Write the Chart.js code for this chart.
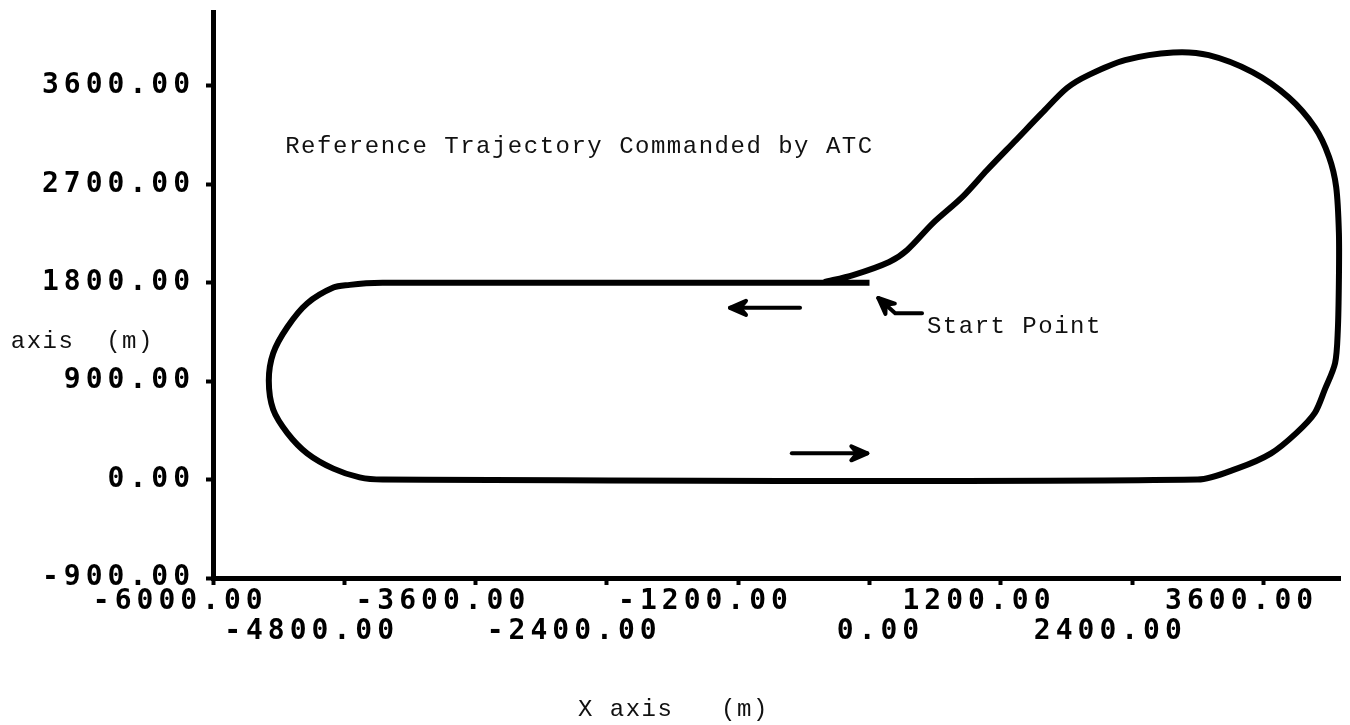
<!DOCTYPE html>
<html>
<head>
    <title>Reference Trajectory Commanded by ATC</title>
    <meta name="viewport" content="width=device-width, initial-scale=1.0">
    <script src="https://cdn.jsdelivr.net/npm/chart.js@4.4.1/dist/chart.umd.min.js"></script>
    <style>
        body { margin: 0; background: #fff; }
        #wrap { width: 1350px; height: 725px; position: relative; }
    </style>
</head>
<body>

<div id="wrap"><canvas id="myChart"></canvas></div>

<script>
// trajectory, metres (start point first)
const trackX = [0, -4450, -4600, -4750, -4900, -5140, -5320, -5450, -5490, -5450,
    -5320, -5140, -4900, -4660, -4450, 3000, 3370, 3670, 3900, 4070,
    4160, 4255, 4280, 4290, 4290, 4265, 4200, 4070, 3830, 3500,
    3100, 2775, 2335, 2005, 1805, 1575, 1340, 1075, 845, 580,
    345, 180, -150, -415];
const trackY = [1800, 1800, 1795, 1780, 1755, 1610, 1395, 1155, 905, 640,
    425, 240, 100, 20, 0, 0, 105, 240, 425, 610,
    820, 1065, 1365, 1825, 2255, 2675, 2950, 3220, 3495, 3725,
    3880, 3905, 3835, 3700, 3580, 3350, 3105, 2830, 2580, 2345,
    2100, 1990, 1870, 1805];

const xTicks = [-6000, -4800, -3600, -2400, -1200, 0, 1200, 2400, 3600];
const xTickLabels = ['-6000.00', '-4800.00', '-3600.00', '-2400.00', '-1200.00', '0.00', '1200.00', '2400.00', '3600.00'];
const yTicks = [-900, 0, 900, 1800, 2700, 3600];
const yTickLabels = ['-900.00', '0.00', '900.00', '1800.00', '2700.00', '3600.00'];

const LABEL_SHIFT = 500; // plotter printed x labels a bit right of the tick

const tickFont = { family: 'DejaVu Sans Mono', size: 28, weight: 'bold', lineHeight: 1.1 };
const axisGrid = { drawOnChartArea: false, drawTicks: true, tickLength: 7, tickWidth: 4, tickColor: '#000' };
const axisBorder = { display: true, width: 5, color: '#000' };

// no extra room for half labels at the ends, the plot fills the page
function noPad(axis) {
    axis.paddingTop = 0;
    axis.paddingBottom = 0;
    axis.paddingLeft = 0;
    axis.paddingRight = 0;
}

// wide dot-matrix look for the tick numbers
const spacing = {
    id: 'spacing',
    beforeDraw(chart) { chart.ctx.letterSpacing = '5px'; },
    beforeDatasetsDraw(chart) { chart.ctx.letterSpacing = '0px'; }
};

function arrow(ctx, pts) {
    ctx.beginPath();
    ctx.moveTo(pts[0][0], pts[0][1]);
    for (let i = 1; i < pts.length; i++) ctx.lineTo(pts[i][0], pts[i][1]);
    ctx.stroke();
    const [tx, ty] = pts[pts.length - 1];
    const [fx, fy] = pts[pts.length - 2];
    const a = Math.atan2(ty - fy, tx - fx);
    ctx.beginPath();
    ctx.moveTo(tx, ty);
    ctx.lineTo(tx - 16 * Math.cos(a) + 7 * Math.sin(a), ty - 16 * Math.sin(a) - 7 * Math.cos(a));
    ctx.lineTo(tx - 10 * Math.cos(a), ty - 10 * Math.sin(a));
    ctx.lineTo(tx - 16 * Math.cos(a) - 7 * Math.sin(a), ty - 16 * Math.sin(a) + 7 * Math.cos(a));
    ctx.closePath();
    ctx.fill();
    ctx.stroke();
}

const notes = {
    id: 'notes',
    afterDraw(chart) {
        const ctx = chart.ctx;
        const px = v => chart.scales.x.getPixelForValue(v);
        const py = v => chart.scales.y.getPixelForValue(v);
        ctx.save();
        ctx.fillStyle = '#111';
        ctx.strokeStyle = '#000';
        ctx.font = '24px "Liberation Mono"';
        ctx.letterSpacing = '1.5px';
        ctx.textBaseline = 'alphabetic';
        ctx.textAlign = 'left';
        ctx.fillText('Reference Trajectory Commanded by ATC', px(-5340), py(2990));
        ctx.fillText('Start Point', px(525), py(1340));
        ctx.fillText('X axis   (m)', 578, 716);
        ctx.fillText('Y axis  (m)', -21, 348);

        ctx.lineWidth = 4;
        ctx.lineCap = 'round';
        ctx.lineJoin = 'round';
        ctx.fillStyle = '#000';
        arrow(ctx, [[px(-635), py(1570)], [px(-1275), py(1570)]]);
        arrow(ctx, [[px(-710), py(240)], [px(-20), py(240)]]);
        arrow(ctx, [[px(480), py(1520)], [px(235), py(1520)], [px(80), py(1660)]]);
        ctx.restore();
    }
};

const points = trackX.map((x, i) => ({ x: x, y: trackY[i] }));

let ctx = document.getElementById('myChart').getContext('2d');
let myChart = new Chart(ctx, {
    type: 'scatter',
    data: {
        datasets: [{
            data: points,
            showLine: true,
            borderColor: '#000',
            borderWidth: 6,
            pointRadius: 0,
            tension: 0.3,
            fill: false,
            clip: false
        }]
    },
    options: {
        responsive: true,
        maintainAspectRatio: false,
        animation: false,
        layout: { padding: { top: 12, right: 10, left: 0, bottom: 0 } },
        plugins: { legend: { display: false }, tooltip: { enabled: false } },
        scales: {
            x: {
                type: 'linear',
                position: 'bottom',
                weight: 0,
                min: -6000,
                max: 4300,
                afterBuildTicks: axis => { axis.ticks = xTicks.map(v => ({ value: v })); },
                afterFit: axis => { axis.height = 8; noPad(axis); },
                ticks: { display: false },
                grid: axisGrid,
                border: axisBorder
            },
            x2: {
                type: 'linear',
                position: 'bottom',
                weight: 1,
                min: -6000 - LABEL_SHIFT,
                max: 4300 - LABEL_SHIFT,
                afterBuildTicks: axis => { axis.ticks = xTicks.map(v => ({ value: v })); },
                afterFit: axis => { axis.height = 139; noPad(axis); },
                ticks: {
                    font: tickFont,
                    color: '#000',
                    padding: 0,
                    align: 'end',
                    autoSkip: false,
                    maxRotation: 0,
                    minRotation: 0,
                    callback: (v, i) => (i % 2 ? ['', xTickLabels[i]] : xTickLabels[i])
                },
                grid: { display: false, drawTicks: false },
                border: { display: false }
            },
            y: {
                type: 'linear',
                position: 'left',
                min: -900,
                max: 4275,
                afterBuildTicks: axis => { axis.ticks = yTicks.map(v => ({ value: v })); },
                afterFit: axis => { axis.width = 213; noPad(axis); },
                ticks: {
                    font: tickFont,
                    color: '#000',
                    padding: 11,
                    autoSkip: false,
                    callback: (v, i) => yTickLabels[i]
                },
                grid: axisGrid,
                border: axisBorder
            }
        }
    },
    plugins: [spacing, notes]
});
</script>

</body>
</html>
